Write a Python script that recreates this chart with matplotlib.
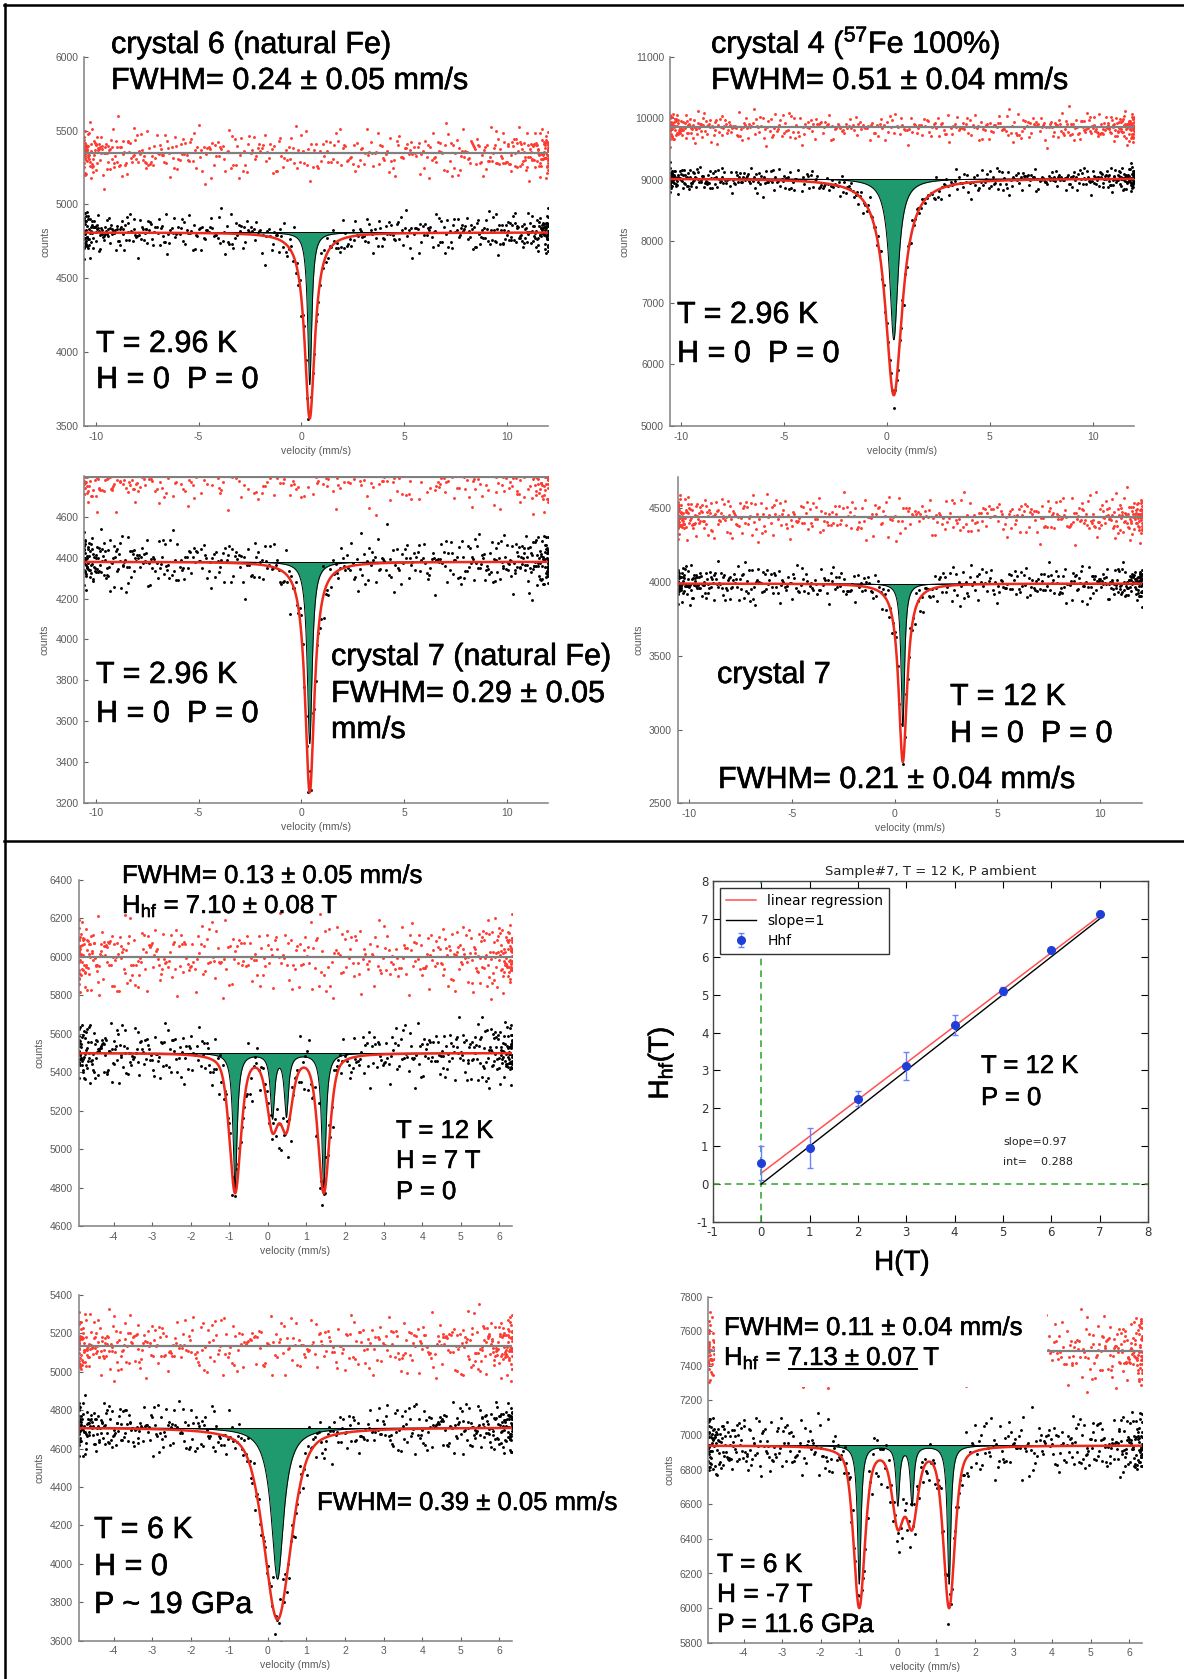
import numpy as np
import matplotlib
matplotlib.use("Agg")
import matplotlib.pyplot as plt
import matplotlib.patheffects as pe
from matplotlib.lines import Line2D
from matplotlib.patches import Rectangle

# ==========================================
# 1. DATA
# ==========================================

# spectra in reading order: crystal 6, crystal 4, crystal 7 (2.96 K), crystal 7 (12 K),
# 12 K / 7 T, 6 K / 19 GPa, 6 K / -7 T / 11.6 GPa
BASE_BLACK = [4810, 9020, 4380, 3990, 5500, 4710, 6940]   # baseline of sample spectrum
BASE_RED = [5345, 9850, 4795, 4440, 6000, 5135, 7485]     # baseline of reference (red) spectrum
SIG_BLACK = [65, 95, 65, 60, 75, 65, 85]
SIG_RED = [80, 110, 65, 70, 90, 75, 95]

LINE_POS = [[0.40], [0.35], [0.40], [0.40],
            [-0.85, 0.12, 0.48, 1.45], [0.25], [-1.00, 0.00, 0.37, 1.33]]
FIT_DEPTH = [[1260], [3520], [1130], [1210],
             [719, 355, 355, 719], [1000], [928, 420, 420, 928]]
FIT_FWHM = [0.60, 1.00, 0.55, 0.50, 0.355, 0.84, 0.35]
FIT_ETA = [1.0, 1.0, 1.0, 1.0, 0.5, 0.5, 0.5]            # Lorentzian fraction of the fit
SUB_DEPTH = [[1030], [2620], [890], [970],
             [700, 330, 320, 700], [790], [800, 340, 340, 800]]
SUB_FWHM = [0.24, 0.51, 0.29, 0.21, 0.13, 0.39, 0.11]

XLIM = [(-10.56, 12.0), (-10.54, 12.0), (-10.56, 12.0), (-10.58, 12.05),
        (-4.91, 6.33), (-4.91, 6.33), (-4.91, 6.33)]
YLIM = [(3500, 6000), (5000, 11000), (3200, 4800), (2500, 4714),
        (4600, 6400), (3600, 5400), (5800, 7800)]
YTICKS = [np.arange(3500, 6001, 500), np.arange(5000, 11001, 1000),
          np.arange(3200, 4601, 200), np.arange(2500, 4501, 500),
          np.arange(4600, 6401, 200), np.arange(3600, 5401, 200),
          np.arange(5800, 7801, 200)]
XTICKS = [[-10, -5, 0, 5, 10]] * 4 + [list(range(-4, 7))] * 3

# hand-typed scatter offsets (units of sigma), combined to fill the channels
RES_A = [0.42, -1.13, 0.87, -0.21, 1.64, -0.58, 0.05, -1.92, 0.73, 0.31,
         -0.66, 1.18, -0.09, -1.37, 0.54, 2.05, -0.84, 0.19, -0.45, 1.02,
         -1.61, 0.66, -0.27, 0.93, -0.02, -1.08, 1.41, -0.73, 0.28, -0.39,
         1.77, -1.24, 0.11, 0.58, -0.95, 0.36, -2.21, 0.81, -0.14, 1.29,
         -0.51, 0.02, -0.88, 1.53, -0.33, 0.47, -1.46, 0.69, 0.16, -0.62,
         1.09, -0.18, -1.71, 0.39, 0.97, -0.77, 0.24, 2.38, -1.02, 0.51, -0.31]
RES_B = [-0.36, 0.91, -1.47, 0.18, 0.62, -0.81, 1.35, -0.07, -1.19, 0.44,
         1.86, -0.53, 0.27, -0.98, 0.71, -1.66, 0.09, 1.12, -0.29, -0.64,
         0.83, -2.03, 0.48, 0.13, -0.72, 1.57, -0.41, 0.96, -1.28, 0.34,
         -0.15, 2.12, -0.87, 0.58, -0.48, 1.01, -1.83, 0.22, 0.67, -0.12,
         -1.05, 1.44, -0.61, 0.38, -0.24, 0.79, -1.52, 1.23, 0.06, -0.93,
         0.55, -0.44, 1.69]
N_CH = 512

# Hhf vs applied field, sample #7
H_APPLIED = [0, 1, 2, 3, 4, 5, 6, 7]
HHF = [0.56, 0.95, 2.25, 3.12, 4.20, 5.10, 6.19, 7.12]
HHF_ERR = [0.44, 0.52, 0.20, 0.36, 0.26, 0.11, 0.05, 0.03]
SLOPE = 0.97
INTERCEPT = 0.288

# ==========================================
# 2. STYLE / LAYOUT
# ==========================================

plt.rcParams["font.family"] = ["Liberation Sans", "DejaVu Sans"]
plt.rcParams["mathtext.fontset"] = "custom"
plt.rcParams["mathtext.rm"] = "Liberation Sans"
plt.rcParams["mathtext.it"] = "Liberation Sans:italic"
plt.rcParams["mathtext.bf"] = "Liberation Sans:bold"
plt.rcParams["axes.unicode_minus"] = False

GREEN = "#1f9a6f"
RED_LINE = "#ee2a1c"
RED_PT = "#ff3a30"
GRAY = "#808080"
HEAVY = [pe.withStroke(linewidth=0.4, foreground="black")]

W, H = 1184, 1679
fig = plt.figure(figsize=(W / 100, H / 100), dpi=100)


def fx(x):
    return x / W


def fy(y):
    return 1 - y / H


def add_axes_px(x0, y0, x1, y1):
    return fig.add_axes([x0 / W, 1 - y1 / H, (x1 - x0) / W, (y1 - y0) / H])


AX_PX = [(84.2, 56.7, 548.4, 426), (669.6, 56.7, 1133.7, 426),
         (84.2, 476, 548.4, 802.7), (677.5, 476.7, 1141.9, 803.3),
         (78.5, 880, 512, 1226), (78.5, 1295, 512, 1640.7),
         (708.4, 1296.7, 1142, 1642.7)]


def lines(v, centers, depths, fwhm, eta=1.0):
    hw = fwhm / 2.0
    out = np.zeros_like(v)
    for c, d in zip(centers, depths):
        x = (v - c) / hw
        out += d * (eta / (1 + x ** 2) + (1 - eta) * np.exp(-np.log(2) * x ** 2))
    return out


def scatter_offsets(n, shift):
    i = np.arange(n)
    a = np.array(RES_A)[(i + shift) % len(RES_A)]
    b = np.array(RES_B)[(3 * i + shift) % len(RES_B)]
    return (a + b) / np.sqrt(2)


# ==========================================
# 3. MOSSBAUER SPECTRA
# ==========================================

axes = []
for i in range(7):
    ax = add_axes_px(*AX_PX[i])
    axes.append(ax)
    lo, hi = XLIM[i]
    th = np.linspace(-np.pi / 2, np.pi / 2, N_CH)
    v = (lo + hi) / 2 + (hi - lo) / 2 * np.sin(th)
    vf = np.linspace(lo, hi, 3000)

    fit = BASE_BLACK[i] - lines(vf, LINE_POS[i], FIT_DEPTH[i], FIT_FWHM[i], FIT_ETA[i])
    sub = BASE_BLACK[i] - lines(vf, LINE_POS[i], SUB_DEPTH[i], SUB_FWHM[i])
    yk = BASE_BLACK[i] - lines(v, LINE_POS[i], FIT_DEPTH[i], FIT_FWHM[i], FIT_ETA[i]) \
        + SIG_BLACK[i] * scatter_offsets(N_CH, 7 * i)
    yr = BASE_RED[i] + SIG_RED[i] * scatter_offsets(N_CH, 7 * i + 29)

    ax.fill_between(vf, sub, BASE_BLACK[i], color=GREEN, lw=0, zorder=1)
    ax.plot(vf, sub, color="black", lw=0.7, zorder=1.5)
    ax.axhline(BASE_BLACK[i], color="black", lw=0.7, zorder=1.5)
    ax.plot(v, yk, "o", color="black", ms=2.1, mew=0, zorder=2)
    ax.plot(v, yr, "o", color=RED_PT, ms=2.1, mew=0, zorder=2)
    ax.axhline(BASE_RED[i], color=GRAY, lw=1.6, zorder=2.5)
    ax.plot(vf, fit, color=RED_LINE, lw=1.8, zorder=3)

    ax.set_xlim(lo, hi)
    ax.set_ylim(*YLIM[i])
    ax.set_xticks(XTICKS[i])
    ax.set_yticks(YTICKS[i])
    for s in ["top", "right"]:
        ax.spines[s].set_visible(False)
    for s in ["left", "bottom"]:
        ax.spines[s].set_color(GRAY)
        ax.spines[s].set_linewidth(1.1)
    ax.tick_params(direction="in", length=3, width=0.8, color="#606060",
                   labelcolor="#5a5a5a", labelsize=7.5, pad=4)
    ax.set_xlabel("velocity (mm/s)", fontsize=7.5, color="#5a5a5a", labelpad=3)
    ax.set_ylabel("counts", fontsize=7.5, color="#5a5a5a", labelpad=4)

# white box hiding the reference data behind the text in the last spectrum
axes[6].add_patch(Rectangle((0.0152, 0.7376), 0.765, 0.2624, transform=axes[6].transAxes,
                            facecolor="white", edgecolor="none", zorder=4))

# ==========================================
# 4. HHF VS H
# ==========================================

ax6 = add_axes_px(712.8, 881, 1148, 1222)
ax6.axvline(0, color="#3aaa3a", ls="--", lw=1.2, dashes=(4, 3))
ax6.axhline(0, color="#3aaa3a", ls="--", lw=1.2, dashes=(4, 3))
xl = np.array([H_APPLIED[0], H_APPLIED[-1]], dtype=float)
ax6.plot(xl, SLOPE * xl + INTERCEPT, color="#ff5050", lw=1.1, label="linear regression")
ax6.plot(xl, xl, color="black", lw=1.0, label="slope=1")
ax6.errorbar(H_APPLIED, HHF, yerr=HHF_ERR, fmt="o", color="#1f3fd6", ecolor="#6b80ff",
             ms=5.5, capsize=2.5, elinewidth=1, label="Hhf", zorder=5)
ax6.set_xlim(-1, 8)
ax6.set_ylim(-1, 8)
ax6.set_xticks(range(-1, 9))
ax6.set_yticks(range(-1, 9))
ax6.tick_params(direction="in", top=True, right=True, length=5, width=0.8,
                labelsize=8.5, pad=3, labelcolor="#333333")
for lab in ax6.get_xticklabels() + ax6.get_yticklabels():
    lab.set_family("DejaVu Sans")
for s in ax6.spines.values():
    s.set_color("#444444")
    s.set_linewidth(1.0)
ax6.set_title("Sample#7, T = 12 K, P ambient", fontsize=9.5, family="DejaVu Sans",
              pad=4, color="#222222")
ax6.legend(loc="upper left", bbox_to_anchor=(0.0165, 0.979), borderaxespad=0,
           fancybox=False, edgecolor="#333333", framealpha=1,
           prop={"family": "DejaVu Sans", "size": 10}, handlelength=2.2,
           borderpad=0.4, labelspacing=0.45)
fig.text(fx(661), fy(1063), r"H$_{\rm hf}$(T)", fontsize=20, rotation=90,
         ha="center", va="center", path_effects=HEAVY)
fig.text(fx(902), fy(1263), "H(T)", fontsize=20, ha="center", va="center",
         path_effects=HEAVY)
fig.text(fx(1003), fy(1142), "slope=0.97", fontsize=8, family="DejaVu Sans",
         va="center", color="#222222")
fig.text(fx(1003), fy(1162), "int=    0.288", fontsize=8, family="DejaVu Sans",
         va="center", color="#222222")

# ==========================================
# 5. ANNOTATIONS
# ==========================================

labels = [
    (111, 53, "crystal 6 (natural Fe)", 22),
    (111, 89, "FWHM= 0.24 ± 0.05 mm/s", 22),
    (96, 352, "T = 2.96 K", 22),
    (96, 388, "H = 0  P = 0", 22),
    (711, 53, r"crystal 4 ($^{57}$Fe 100%)", 22),
    (711, 89, "FWHM= 0.51 ± 0.04 mm/s", 22),
    (677, 323, "T = 2.96 K", 22),
    (677, 362, "H = 0  P = 0", 22),
    (96, 683, "T = 2.96 K", 22),
    (96, 722, "H = 0  P = 0", 22),
    (331, 665, "crystal 7 (natural Fe)", 22),
    (331, 702, "FWHM= 0.29 ± 0.05", 22),
    (331, 738, "mm/s", 22),
    (717, 683, "crystal 7", 22),
    (950, 705, "T = 12 K", 22),
    (950, 742, "H = 0  P = 0", 22),
    (718, 788, "FWHM= 0.21 ± 0.04 mm/s", 22),
    (122, 883, "FWHM= 0.13 ± 0.05 mm/s", 18.5),
    (122, 913, r"H$_{\rm hf}$ = 7.10 ± 0.08 T", 18.5),
    (396, 1138, "T = 12 K", 18.5),
    (396, 1168, "H = 7 T", 18.5),
    (396, 1199, "P = 0", 18.5),
    (981, 1073, "T = 12 K", 18.5),
    (981, 1105, "P = 0", 18.5),
    (94, 1538, "T = 6 K", 22),
    (94, 1575, "H = 0", 22),
    (94, 1613, "P ~ 19 GPa", 22),
    (317, 1510, "FWHM= 0.39 ± 0.05 mm/s", 18.5),
    (724, 1335, "FWHM= 0.11 ± 0.04 mm/s", 18.5),
    (724, 1365, r"H$_{\rm hf}$ = 7.13 ± 0.07 T", 18.5),
    (717, 1572, "T = 6 K", 19),
    (717, 1602, "H = -7 T", 19),
    (717, 1632, "P = 11.6 GPa", 19),
]
for x, y, s, size in labels:
    fig.text(fx(x), fy(y), s, fontsize=size, va="baseline", ha="left", zorder=6,
             path_effects=HEAVY)

# underline under "7.13 ± 0.07"
fig.canvas.draw()
rend = fig.canvas.get_renderer()
t_a = fig.text(fx(724), fy(1365), r"H$_{\rm hf}$ = 7.13 ± 0.07", fontsize=18.5, va="baseline")
t_b = fig.text(fx(724), fy(1365), "7.13 ± 0.07", fontsize=18.5, va="baseline")
bb_a = t_a.get_window_extent(rend)
bb_b = t_b.get_window_extent(rend)
t_a.remove()
t_b.remove()
u1 = bb_a.x1 / W
u0 = (bb_a.x1 - bb_b.width) / W
fig.add_artist(Line2D([u0, u1], [fy(1369), fy(1369)], transform=fig.transFigure,
                      color="black", lw=1.4))

# frame lines around the two groups
for xs, ys in [([4, W], [5, 5]), ([5, 5], [4, H]), ([4, W], [841, 841])]:
    fig.add_artist(Line2D([fx(a) for a in xs], [fy(b) for b in ys],
                          transform=fig.transFigure, color="black", lw=1.8))

fig.savefig("out.png", dpi=100)
